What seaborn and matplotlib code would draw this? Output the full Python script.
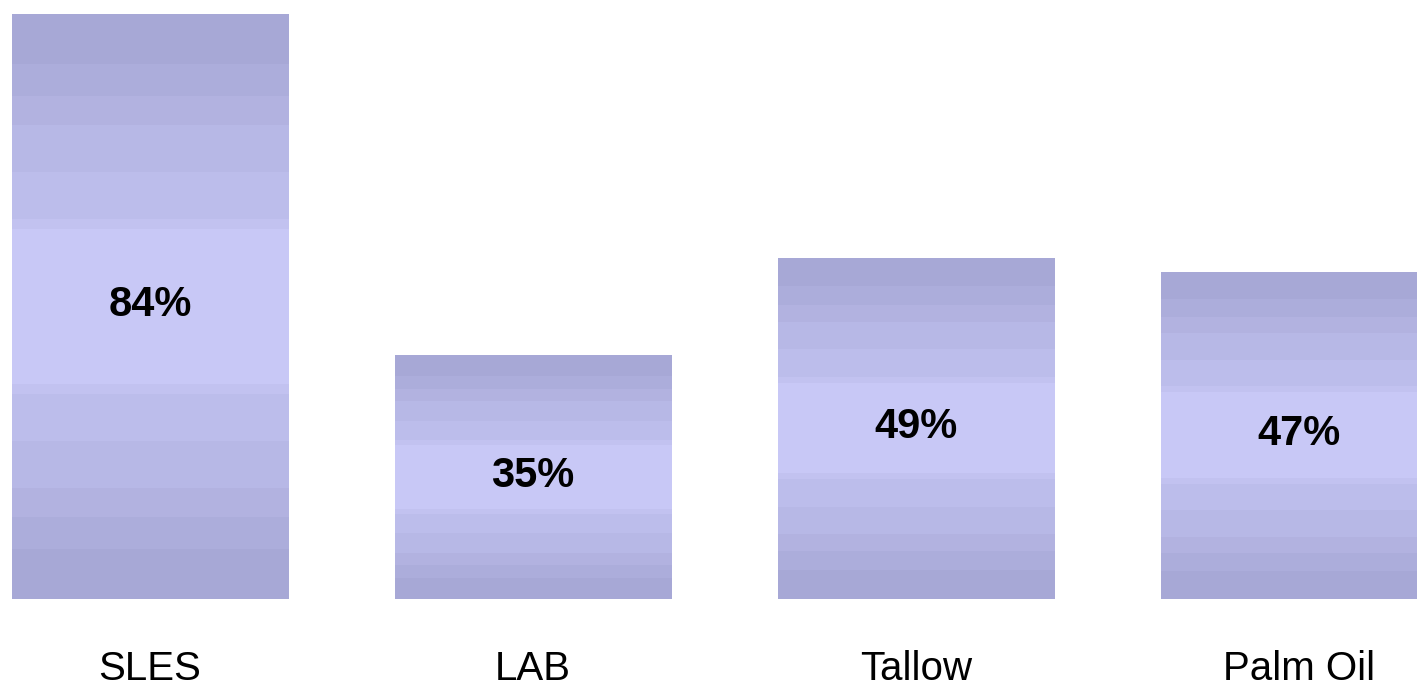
import numpy as np
import pandas as pd
import matplotlib
matplotlib.use("Agg")
import matplotlib.pyplot as plt
import seaborn as sns

categories = ["SLES", "LAB", "Tallow", "Palm Oil"]
values = [84, 35, 49, 47]
value_labels = ["84%", "35%", "49%", "47%"]

df = pd.DataFrame({"category": categories, "value": values})

sns.set_theme(style="white")
plt.rcParams["font.family"] = ["Liberation Sans", "DejaVu Sans"]

fig = plt.figure(figsize=(14.17, 6.91), dpi=100)
ax = fig.add_axes([0.0, 92 / 691, 1.0, 585 / 691])

sns.barplot(data=df, x="category", y="value", color="#B8B8E6",
            width=0.722, ax=ax, saturation=1, edgecolor="none")

# banded vertical gradient: darker at top/bottom, lighter in the middle
edge = np.array([167, 168, 214]) / 255
center = np.array([200, 200, 246]) / 255
band_edges = [0.0, 0.086, 0.14, 0.19, 0.27, 0.35, 0.367]
n = 400
t = (np.arange(n) + 0.5) / n
d = np.minimum(t, 1 - t)
levels = np.zeros(n)
for i, b in enumerate(band_edges):
    levels[d >= b] = i
levels = levels / (len(band_edges) - 1)
cols = edge[None, :] * (1 - levels[:, None]) + center[None, :] * levels[:, None]
img = cols[:, None, :]

for patch, lab in zip(ax.patches, value_labels):
    x0 = patch.get_x()
    w = patch.get_width()
    h = patch.get_height()
    im = ax.imshow(img, extent=[x0, x0 + w, 0, h], aspect="auto",
                   interpolation="nearest", origin="upper", zorder=patch.get_zorder() + 0.1)
    im.set_clip_path(patch)
    ax.text(x0 + w / 2, h / 2 + 0.2, lab, ha="center", va="center",
            fontsize=30, fontweight="bold", color="black", zorder=5)

ax.set_xlim(-150 / 383, (1417 - 150) / 383)
ax.set_ylim(0, 84)
ax.set_xlabel("")
ax.set_ylabel("")
ax.set_yticks([])
ax.tick_params(axis="x", length=0, pad=36.5, labelsize=29, labelcolor="black")
for s in ax.spines.values():
    s.set_visible(False)

fig.savefig("out.png", dpi=100, facecolor="white")
